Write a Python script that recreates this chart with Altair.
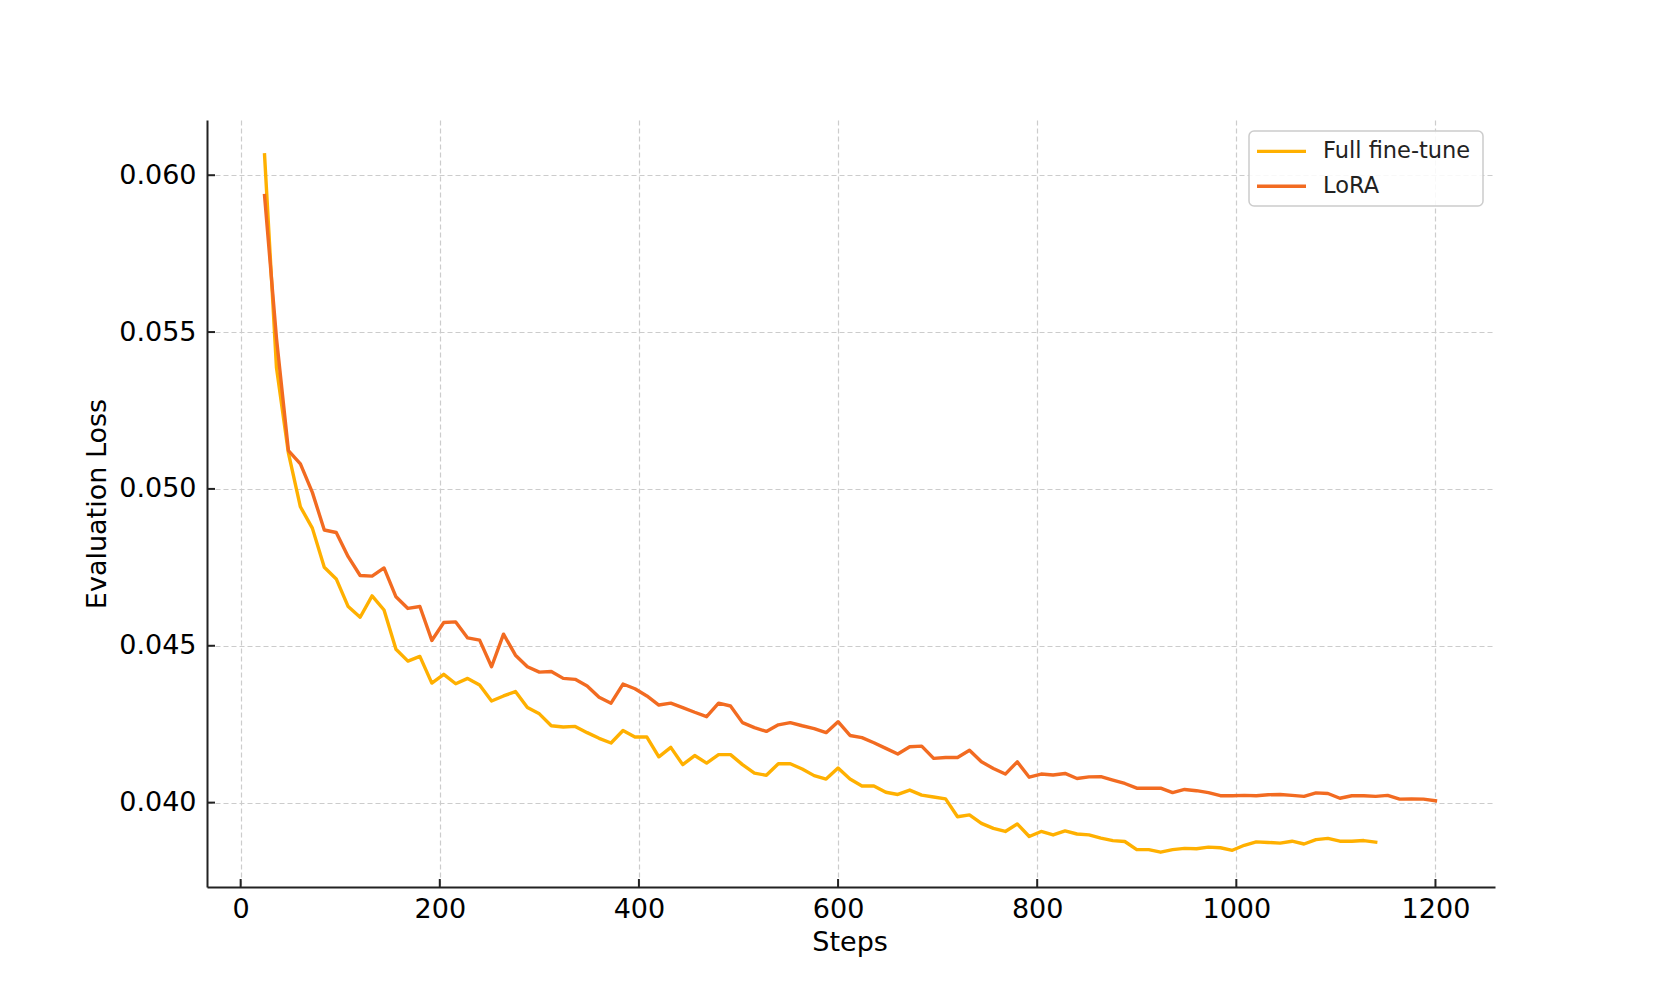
import altair as alt
import pandas as pd

# ---- data ----
steps = [24, 36, 48, 60, 72, 84, 96, 108, 120, 132,
         144, 156, 168, 180, 192, 204, 216, 228, 240, 252,
         264, 276, 288, 300, 312, 324, 336, 348, 360, 372,
         384, 396, 408, 420, 432, 444, 456, 468, 480, 492,
         504, 516, 528, 540, 552, 564, 576, 588, 600, 612,
         624, 636, 648, 660, 672, 684, 696, 708, 720, 732,
         744, 756, 768, 780, 792, 804, 816, 828, 840, 852,
         864, 876, 888, 900, 912, 924, 936, 948, 960, 972,
         984, 996, 1008, 1020, 1032, 1044, 1056, 1068, 1080, 1092,
         1104, 1116, 1128, 1140, 1152, 1164, 1176, 1188, 1200]

full_loss = [0.06065, 0.05386, 0.05114, 0.04943, 0.04875, 0.0475, 0.04713, 0.04625, 0.04591, 0.04659,
             0.04614, 0.04489, 0.04451, 0.04466, 0.04381, 0.04409, 0.04379, 0.04396, 0.04375, 0.04324,
             0.0434, 0.04354, 0.04303, 0.04283, 0.04245, 0.04241, 0.04243, 0.04223, 0.04205, 0.0419,
             0.0423, 0.04209, 0.04209, 0.04146, 0.04176, 0.04121, 0.0415, 0.04126, 0.04153, 0.04153,
             0.04121, 0.04094, 0.04087, 0.04124, 0.04124, 0.04107, 0.04086, 0.04075, 0.0411, 0.04075,
             0.04053, 0.04053, 0.04033, 0.04026, 0.0404, 0.04024, 0.04018, 0.04012, 0.03955, 0.03961,
             0.03934, 0.03918, 0.03908, 0.03932, 0.03892, 0.03908, 0.03897, 0.0391, 0.039, 0.03897,
             0.03887, 0.03879, 0.03876, 0.0385, 0.0385, 0.03842, 0.0385, 0.03854, 0.03853, 0.03858,
             0.03856, 0.03848, 0.03864, 0.03875, 0.03873, 0.03871, 0.03877, 0.03868, 0.03882, 0.03886,
             0.03877, 0.03877, 0.03879, 0.03874]

lora_loss = [0.05935, 0.0548, 0.05122, 0.0508, 0.04989, 0.04869, 0.04861, 0.04784, 0.04724, 0.04722,
             0.04748, 0.04656, 0.04619, 0.04625, 0.04517, 0.04574, 0.04576, 0.04525, 0.04518, 0.04433,
             0.04537, 0.0447, 0.04433, 0.04416, 0.04418, 0.04396, 0.04393, 0.04372, 0.04336, 0.04317,
             0.04378, 0.04363, 0.0434, 0.04311, 0.04317, 0.04303, 0.04288, 0.04274, 0.04317, 0.04308,
             0.04255, 0.04239, 0.04227, 0.04248, 0.04255, 0.04245, 0.04236, 0.04223, 0.04258, 0.04214,
             0.04207, 0.04191, 0.04173, 0.04155, 0.04178, 0.0418, 0.04141, 0.04144, 0.04144, 0.04167,
             0.0413, 0.04109, 0.04091, 0.0413, 0.04081, 0.04091, 0.04088, 0.04093, 0.04077, 0.04082,
             0.04083, 0.04072, 0.04061, 0.04046, 0.04046, 0.04046, 0.04032, 0.04042, 0.04038, 0.04032,
             0.04022, 0.04022, 0.04023, 0.04022, 0.04025, 0.04026, 0.04023, 0.0402, 0.04031, 0.04029,
             0.04014, 0.04022, 0.04022, 0.0402, 0.04023, 0.04011, 0.04012, 0.04011, 0.04006]

series_names = ["Full fine-tune", "LoRA"]
series_colors = ["#FFB000", "#F26B21"]

x_ticks = [0, 200, 400, 600, 800, 1000, 1200]
y_ticks = [0.040, 0.045, 0.050, 0.055, 0.060]

# ---- build table ----
rows = []
for s, v in zip(steps[:len(full_loss)], full_loss):
    rows.append({"Steps": s, "Loss": v, "Series": series_names[0]})
for s, v in zip(steps, lora_loss):
    rows.append({"Steps": s, "Loss": v, "Series": series_names[1]})
df = pd.DataFrame(rows)

W, H = 1288, 767
FONT = "DejaVu Sans"
INK = "#222222"

x_scale = alt.Scale(domain=[-33.8, 1259.8], nice=False, zero=False)
y_scale = alt.Scale(domain=[0.03731, 0.06176], nice=False, zero=False)

lines = alt.Chart(df).mark_line(strokeWidth=3.4, strokeCap="square", strokeJoin="round").encode(
    x=alt.X("Steps:Q", scale=x_scale,
            axis=alt.Axis(values=x_ticks, format="d", title="Steps", labelPadding=9,
                          titleX=642.6, titleY=55, titleBaseline="middle", titleAlign="center")),
    y=alt.Y("Loss:Q", scale=y_scale,
            axis=alt.Axis(values=y_ticks, format=".3f", title="Evaluation Loss", labelPadding=11,
                          titleAngle=270, titleX=-110, titleY=383.5,
                          titleBaseline="middle", titleAlign="center")),
    color=alt.Color("Series:N", scale=alt.Scale(domain=series_names, range=series_colors), legend=None),
)

# inward tick marks (matplotlib style)
ytick_layer = alt.Chart(pd.DataFrame({"Loss": y_ticks})).mark_rule(color=INK, strokeWidth=2).encode(
    y=alt.Y("Loss:Q", scale=y_scale),
    x=alt.value(0), x2=alt.value(8),
)
xtick_layer = alt.Chart(pd.DataFrame({"Steps": x_ticks})).mark_rule(color=INK, strokeWidth=2).encode(
    x=alt.X("Steps:Q", scale=x_scale),
    y=alt.value(H), y2=alt.value(H - 8),
)

# legend box
legend_df = pd.DataFrame({"Series": series_names})
legend_box = alt.Chart(legend_df.head(1)).mark_rect(
    fill="white", fillOpacity=0.85, stroke="#cccccc", strokeWidth=1.5, cornerRadius=5
).encode(x=alt.value(1042), x2=alt.value(1276), y=alt.value(11), y2=alt.value(86))

row_y = [31.4, 66.3]
legend_layers = [legend_box]
for i, name in enumerate(series_names):
    sub = pd.DataFrame({"Series": [name]})
    legend_layers.append(
        alt.Chart(sub).mark_rule(strokeWidth=3.4, color=series_colors[i]).encode(
            x=alt.value(1050), x2=alt.value(1099), y=alt.value(row_y[i]))
    )
    legend_layers.append(
        alt.Chart(sub).mark_text(align="left", baseline="middle", fontSize=22.5, font=FONT, color=INK).encode(
            x=alt.value(1116), y=alt.value(row_y[i]), text="Series:N")
    )

chart = alt.layer(lines, ytick_layer, xtick_layer, *legend_layers).properties(
    width=W, height=H,
    autosize=alt.AutoSizeParams(type="none"),
    padding={"left": 199, "top": 112, "right": 150, "bottom": 100},
).configure_view(strokeWidth=0).configure_axis(
    labelFont=FONT, titleFont=FONT, labelFontSize=27, titleFontSize=27,
    labelColor="#000000", titleColor="#000000", titleFontWeight="normal",
    grid=True, gridColor="#cccccc", gridDash=[5, 3], gridWidth=1.2,
    domainColor=INK, domainWidth=2, ticks=False, tickSize=0,
)

chart.save("out.html", embed_options={"renderer": "svg", "actions": False})
